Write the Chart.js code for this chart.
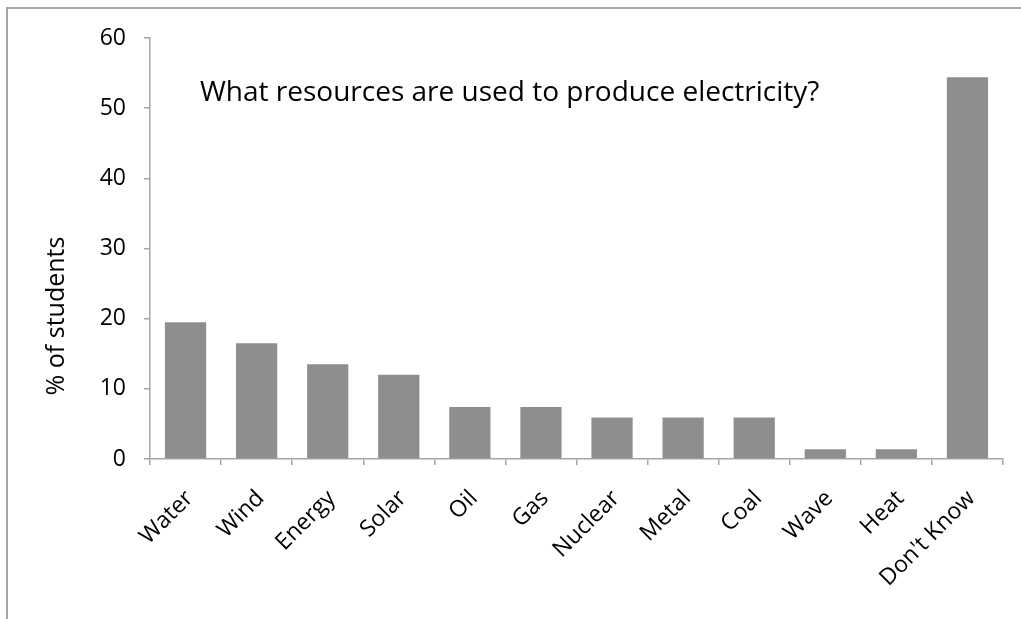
<!DOCTYPE html>
<html>
<head>
<meta charset="utf-8">
<script src="https://cdn.jsdelivr.net/npm/chart.js@4.4.1/dist/chart.umd.min.js"></script>
<style>
  html, body { margin: 0; padding: 0; background: #fff; }
  #wrap { position: relative; width: 1021px; height: 619px; overflow: hidden; }
  #frame { position: absolute; left: 6px; top: 7px; width: 1100px; height: 700px;
           border-left: 2px solid #a6a6a6; border-top: 2px solid #a6a6a6; pointer-events: none; }
  canvas { position: absolute; left: 0; top: 0; }
</style>
</head>
<body>
<div id="wrap">
  <canvas id="grafica" width="1021" height="619"></canvas>
  <div id="frame"></div>
</div>
<script>
const categorias = ["Water", "Wind", "Energy", "Solar", "Oil", "Gas", "Nuclear", "Metal", "Coal", "Wave", "Heat", "Don't Know"];
const porcentajes = [19.5, 16.5, 13.5, 12, 7.4, 7.4, 5.9, 5.9, 5.9, 1.4, 1.4, 54.4];
const ticksY = [0, 10, 20, 30, 40, 50, 60];
const tituloGrafica = "What resources are used to produce electricity?";
const tituloEjeY = "% of students";

const gris = "#a6a6a6";
const fuente = "'Open Sans', 'Noto Sans', sans-serif";

// titulo dentro del area y titulo del eje y
const textos = {
  id: "textos",
  afterDraw(chart) {
    const ctx = chart.ctx;
    const area = chart.chartArea;
    ctx.save();
    ctx.fillStyle = "#000";
    ctx.font = "28px " + fuente;
    ctx.textAlign = "left";
    ctx.textBaseline = "alphabetic";
    ctx.fillText(tituloGrafica, area.left + 50, 101);

    ctx.translate(57, 316);
    ctx.rotate(-Math.PI / 2);
    ctx.font = "25px " + fuente;
    ctx.textAlign = "center";
    ctx.textBaseline = "middle";
    ctx.fillText(tituloEjeY, 0, 0);
    ctx.restore();
  }
};

const ctx = document.getElementById("grafica").getContext("2d");
new Chart(ctx, {
  type: "bar",
  data: {
    labels: categorias,
    datasets: [{
      data: porcentajes,
      backgroundColor: "#8e8e8e",
      borderWidth: 0,
      categoryPercentage: 1,
      barPercentage: 0.58,
    }],
  },
  options: {
    responsive: false,
    animation: false,
    layout: { padding: { left: 0, top: 38, right: 18, bottom: 0 } },
    plugins: {
      legend: { display: false },
      title: { display: false },
      tooltip: { enabled: false },
    },
    scales: {
      x: {
        afterFit: (scale) => { scale.height = 160; },
        grid: { drawOnChartArea: false, drawTicks: true, tickLength: 6, color: gris, lineWidth: 1.5, offset: true },
        border: { color: gris, width: 1.5 },
        ticks: {
          autoSkip: false,
          minRotation: 45,
          maxRotation: 45,
          padding: 20,
          labelOffset: 4,
          color: "#000",
          font: { family: fuente, size: 23 },
        },
      },
      y: {
        min: 0,
        max: 60,
        afterFit: (scale) => { scale.width = 150; },
        afterBuildTicks: (scale) => { scale.ticks = ticksY.map(v => ({ value: v })); },
        grid: { drawOnChartArea: false, drawTicks: true, tickLength: 6, color: gris, lineWidth: 1.5 },
        border: { color: gris, width: 1.5 },
        ticks: {
          padding: 18,
          color: "#000",
          font: { family: fuente, size: 23 },
        },
      },
    },
  },
  plugins: [textos],
});
</script>
</body>
</html>
